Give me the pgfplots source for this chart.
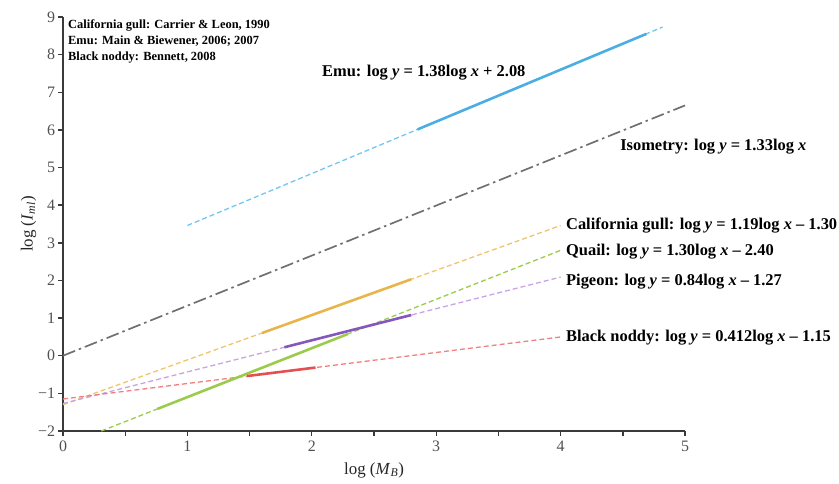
\documentclass[border=0pt]{standalone}
\usepackage{fontspec}
\setmainfont{Liberation Serif}
\usepackage{pgfplots}
\pgfplotsset{compat=1.18}

\definecolor{emublue}{HTML}{4BAEE3}
\definecolor{emulight}{HTML}{72C6F0}
\definecolor{isogray}{HTML}{707070}
\definecolor{gullsolid}{HTML}{E8B54A}
\definecolor{gulldash}{HTML}{F0C46A}
\definecolor{quailgreen}{HTML}{9ACB4B}
\definecolor{pigsolid}{HTML}{8656BF}
\definecolor{pigdash}{HTML}{C9A3E3}
\definecolor{noddysolid}{HTML}{E84E50}
\definecolor{noddydash}{HTML}{F28080}
\definecolor{axisdark}{HTML}{3A3A3A}
\definecolor{ticktext}{HTML}{505050}

\begin{document}
\begin{tikzpicture}
\begin{axis}[
    scale only axis,
    width=622bp,
    height=414bp,
    xmin=0, xmax=5,
    ymin=-2, ymax=9,
    axis lines*=left,
    axis line style={-, draw=axisdark, line width=1.4pt},
    clip=false,
    xtick={0,1,2,3,4,5},
    xticklabels={0,1,2,3,4,5},
    minor x tick num=1,
    ytick={-2,-1,0,1,2,3,4,5,6,7,8,9},
    yticklabels={−2,−1,0,1,2,3,4,5,6,7,8,9},
    tick align=outside,
    major tick length=4.5bp,
    minor tick length=4.5bp,
    tick style={draw=axisdark, line width=1.4pt},
    tick label style={font=\fontsize{16}{18}\selectfont, text=ticktext},
    xticklabel style={yshift=-2bp},
    xlabel={log (\textit{M}\textsubscript{\textit{B}})},
    ylabel={log (\textit{I}\textsubscript{\textit{ml}})},
    label style={font=\fontsize{17}{19}\selectfont, text=black!85},
    xlabel style={yshift=-4bp},
    ylabel style={yshift=-5bp},
]
% extrapolated (dashed) lines
\addplot[emulight, line width=1.3pt, dash pattern=on 5bp off 3bp] coordinates {(1,3.46) (4.82,8.732)};
\addplot[isogray, line width=1.7pt, dash pattern=on 13bp off 4bp on 2.5bp off 4bp] coordinates {(0,0) (5,6.65)};
\addplot[gulldash, line width=1.3pt, dash pattern=on 5bp off 3bp] coordinates {(0,-1.30) (4,3.46)};
\addplot[quailgreen, line width=1.3pt, dash pattern=on 5bp off 3bp] coordinates {(0.308,-2.0) (4,2.80)};
\addplot[pigdash, line width=1.3pt, dash pattern=on 5bp off 3bp] coordinates {(0,-1.27) (4,2.09)};
\addplot[noddydash, line width=1.3pt, dash pattern=on 5bp off 3bp] coordinates {(0,-1.15) (4,0.498)};
% measured ranges (solid)
\addplot[emublue, line width=2.6pt] coordinates {(2.85,6.013) (4.69,8.552)};
\addplot[gullsolid, line width=2.6pt] coordinates {(1.60,0.604) (2.80,2.032)};
\addplot[quailgreen, line width=2.6pt] coordinates {(0.76,-1.412) (2.29,0.577)};
\addplot[pigsolid, line width=2.6pt] coordinates {(1.78,0.225) (2.80,1.082)};
\addplot[noddysolid, line width=2.6pt] coordinates {(1.48,-0.540) (2.03,-0.314)};

\coordinate (ll) at (rel axis cs:0,0);
\coordinate (ur) at (rel axis cs:1,1);

\begin{scope}[every node/.style={font=\bfseries\fontsize{16.5}{18}\selectfont, anchor=base west, inner sep=0pt}]
\node at (axis cs:2.082,7.406) {Emu: log \textit{y} = 1.38log \textit{x} + 2.08};
\node at (axis cs:4.478,5.466) {Isometry: log \textit{y} = 1.33log \textit{x}};
\node at (axis cs:4.043,3.341) {California gull: log \textit{y} = 1.19log \textit{x} – 1.30};
\node at (axis cs:4.043,2.676) {Quail: log \textit{y} = 1.30log \textit{x} – 2.40};
\node at (axis cs:4.043,1.853) {Pigeon: log \textit{y} = 0.84log \textit{x} – 1.27};
\node at (axis cs:4.043,0.391) {Black noddy: log \textit{y} = 0.412log \textit{x} – 1.15};
\end{scope}
\node[font=\bfseries\fontsize{12.5}{16}\selectfont, anchor=north west, align=left, inner sep=0pt]
  at (axis cs:0.04,8.93) {California gull: Carrier \& Leon, 1990\\Emu: Main \& Biewener, 2006; 2007\\Black noddy: Bennett, 2008};
\end{axis}
\pgfresetboundingbox
\path ([shift={(-63bp,-53bp)}]ll) rectangle ([shift={(154bp,17bp)}]ur);
\end{tikzpicture}
\end{document}
